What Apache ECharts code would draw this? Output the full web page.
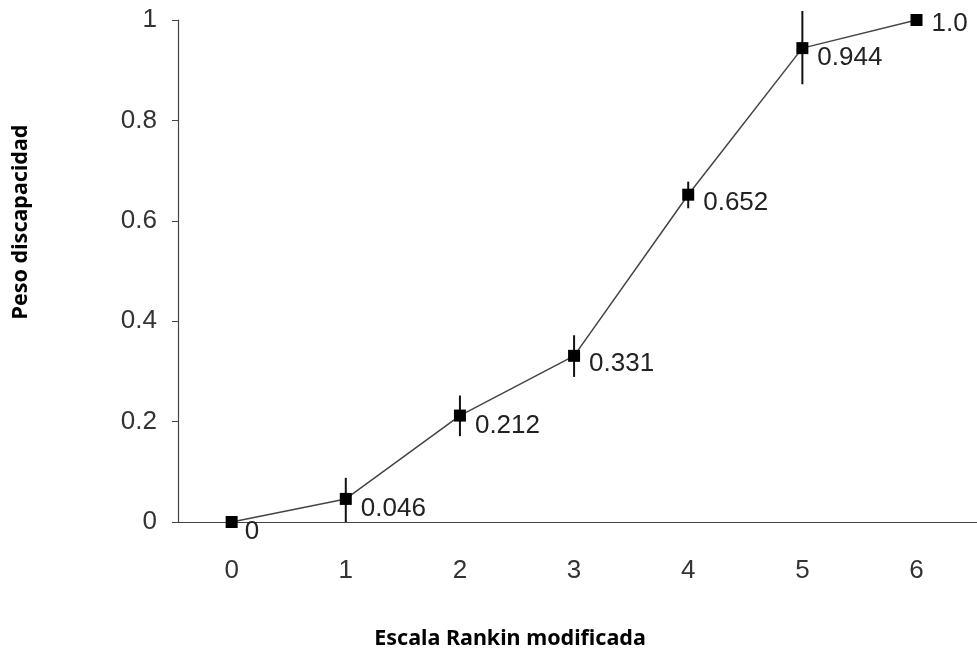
<!DOCTYPE html>
<html>
<head>
<meta charset="utf-8">
<script src="https://cdn.jsdelivr.net/npm/echarts@6/dist/echarts.min.js"></script>
<style>html,body{margin:0;padding:0;background:#fff}#c{width:977px;height:650px}</style>
</head>
<body>
<div id="c"></div>
<script>
var categories = [0, 1, 2, 3, 4, 5, 6];
var weights = [0, 0.046, 0.212, 0.331, 0.652, 0.944, 1.0];
var labels = ['0', '0.046', '0.212', '0.331', '0.652', '0.944', '1.0'];
var errLow = [null, 0.0, 0.171, 0.289, 0.625, 0.872, null];
var errHigh = [null, 0.088, 0.252, 0.372, 0.678, 1.018, null];
var yTicks = [0, 0.2, 0.4, 0.6, 0.8, 1];
var xTicks = [0, 1, 2, 3, 4, 5, 6];

var labelOffsets = [[2, 10], [4, 10], [4, 10], [4, 8], [4, 8], [4, 10], [4, 4]];
var lineData = categories.map(function (c, i) {
  return {
    value: [c, weights[i]],
    label: { offset: labelOffsets[i] }
  };
});
var errData = [];
categories.forEach(function (c, i) {
  if (errLow[i] !== null) errData.push([c, errLow[i], errHigh[i]]);
});

var chart = echarts.init(document.getElementById('c'), null, { renderer: 'canvas' });
chart.setOption({
  animation: false,
  backgroundColor: '#fff',
  grid: { left: 178, right: 0, top: 20, bottom: 128, containLabel: false },
  xAxis: {
    type: 'value',
    min: -0.47,
    max: 6.53,
    splitLine: { show: false },
    axisLine: { show: true, onZero: false, lineStyle: { color: '#444', width: 1.2 } },
    axisTick: { show: false },
    axisLabel: {
      customValues: xTicks,
      margin: 36,
      color: '#333',
      fontSize: 26,
      fontFamily: 'Liberation Sans'
    }
  },
  yAxis: {
    type: 'value',
    min: 0,
    max: 1,
    interval: 0.2,
    splitLine: { show: false },
    axisLine: { show: true, onZero: false, lineStyle: { color: '#444', width: 1.2 } },
    axisTick: { show: true, length: 6, lineStyle: { color: '#444' } },
    axisLabel: {
      margin: 21,
      color: '#333',
      fontSize: 26,
      fontFamily: 'Liberation Sans'
    }
  },
  graphic: [
    {
      type: 'text',
      x: 510, y: 639,
      style: {
        text: 'Escala Rankin modificada',
        x: 0, y: 0,
        align: 'center', verticalAlign: 'middle',
        font: 'bold 21.5px "Noto Sans"',
        fill: '#000'
      }
    },
    {
      type: 'text',
      x: 21, y: 222,
      rotation: Math.PI / 2,
      style: {
        text: 'Peso discapacidad',
        x: 0, y: 0,
        align: 'center', verticalAlign: 'middle',
        font: 'bold 21.5px "Noto Sans"',
        fill: '#000'
      }
    }
  ],
  series: [
    {
      type: 'custom',
      name: 'err',
      data: errData,
      clip: false,
      z: 3,
      renderItem: function (params, api) {
        var x = api.value(0);
        var lo = api.coord([x, api.value(1)]);
        var hi = api.coord([x, api.value(2)]);
        return {
          type: 'line',
          shape: { x1: lo[0], y1: lo[1], x2: hi[0], y2: hi[1] },
          style: { stroke: '#111', lineWidth: 2 }
        };
      }
    },
    {
      type: 'line',
      data: lineData,
      clip: false,
      z: 4,
      symbol: 'rect',
      symbolSize: 12,
      itemStyle: { color: '#000' },
      lineStyle: { color: '#444', width: 1.5 },
      label: {
        show: true,
        position: 'right',
        color: '#222',
        fontSize: 26,
        fontFamily: 'Liberation Sans',
        formatter: function (p) { return labels[p.dataIndex]; }
      }
    }
  ]
});
</script>
</body>
</html>
